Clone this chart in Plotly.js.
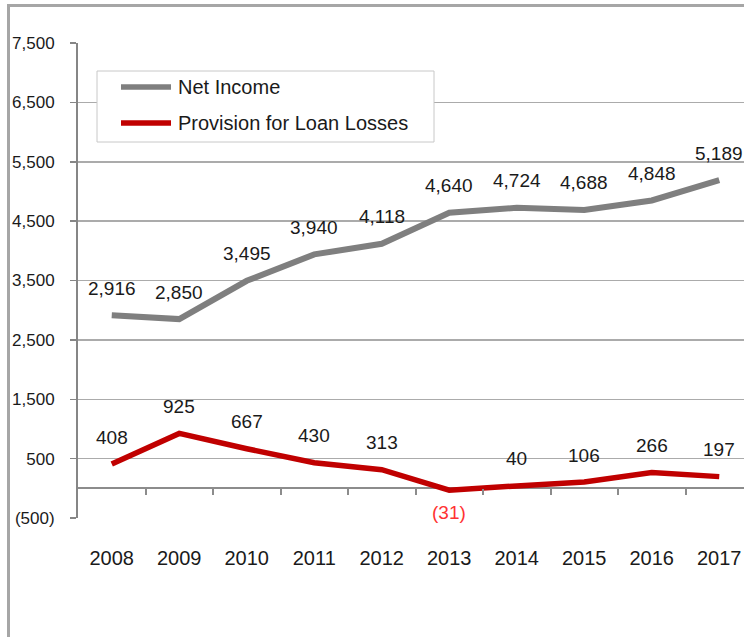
<!DOCTYPE html>
<html>
<head>
<meta charset="utf-8">
<script src="https://cdn.plot.ly/plotly-3.0.1.min.js"></script>
<style>
  html, body { margin: 0; padding: 0; background: #ffffff; }
  #wrap { position: relative; width: 744px; height: 637px; overflow: hidden; }
  #chart { position: absolute; left: 0; top: 0; width: 744px; height: 637px; }
  #frame { position: absolute; left: 7px; top: 4px; width: 760px; height: 700px;
           border-left: 3px solid #a6a6a6; border-top: 3px solid #a6a6a6; pointer-events: none; }
</style>
</head>
<body>
<div id="wrap">
  <div id="chart"></div>
  <div id="frame"></div>
</div>
<script>
// ---- data ----
var years = ['2008','2009','2010','2011','2012','2013','2014','2015','2016','2017'];
var netIncome = [2916, 2850, 3495, 3940, 4118, 4640, 4724, 4688, 4848, 5189];
var provision = [408, 925, 667, 430, 313, -31, 40, 106, 266, 197];
var seriesNames = ['Net Income', 'Provision for Loan Losses'];
var yTickVals = [-500, 500, 1500, 2500, 3500, 4500, 5500, 6500, 7500];
var yTickText = ['(500)', '500', '1,500', '2,500', '3,500', '4,500', '5,500', '6,500', '7,500'];

// ---- helpers ----
function fmt(v) {
  var a = String(Math.abs(v)).replace(/\B(?=(\d{3})+(?!\d))/g, ',');
  return v < 0 ? '(' + a + ')' : a;
}
var FONT = 'Liberation Sans, Arial, sans-serif';
var grayLine = '#7f7f7f';
var redLine = '#c00000';

var traces = [
  { x: years, y: netIncome, type: 'scatter', mode: 'lines', name: seriesNames[0],
    line: { color: grayLine, width: 6 }, hoverinfo: 'x+y' },
  { x: years, y: provision, type: 'scatter', mode: 'lines', name: seriesNames[1],
    line: { color: redLine, width: 5.5 }, hoverinfo: 'x+y' },
  { x: [], y: [], xaxis: 'x2', yaxis: 'y', type: 'scatter', mode: 'lines',
    showlegend: false, hoverinfo: 'skip' }
];

var annotations = [];
years.forEach(function (yr, i) {
  annotations.push({ x: i, y: netIncome[i], xref: 'x', yref: 'y', text: fmt(netIncome[i]),
    showarrow: false, yanchor: 'middle', xanchor: 'center', yshift: 27,
    font: { family: FONT, size: 19, color: '#1a1a1a' } });
  var neg = provision[i] < 0;
  annotations.push({ x: i, y: provision[i], xref: 'x', yref: 'y', text: fmt(provision[i]),
    showarrow: false, yanchor: 'middle', xanchor: 'center', yshift: neg ? -22 : 27,
    font: { family: FONT, size: 19, color: neg ? '#ff3333' : '#1a1a1a' } });
});

// manual legend (paper coordinates relative to plot area: left 78, top 43, width 666, height 475)
function px(xPix) { return (xPix - 78) / 666; }
function py(yPix) { return (518 - yPix) / 475; }
var shapes = [
  { type: 'rect', xref: 'paper', yref: 'paper', x0: px(97), x1: px(434), y0: py(142), y1: py(71),
    fillcolor: '#ffffff', line: { color: '#c8c8c8', width: 1 }, layer: 'above' },
  { type: 'line', xref: 'paper', yref: 'paper', x0: px(121), x1: px(171), y0: py(87), y1: py(87),
    line: { color: grayLine, width: 5.5 }, layer: 'above' },
  { type: 'line', xref: 'paper', yref: 'paper', x0: px(121), x1: px(171), y0: py(123), y1: py(123),
    line: { color: redLine, width: 5.5 }, layer: 'above' }
];
annotations.push({ xref: 'paper', yref: 'paper', x: px(176), y: py(87), text: seriesNames[0],
  showarrow: false, xanchor: 'left', yanchor: 'middle',
  font: { family: FONT, size: 20, color: '#1a1a1a' } });
annotations.push({ xref: 'paper', yref: 'paper', x: px(176), y: py(123), text: seriesNames[1],
  showarrow: false, xanchor: 'left', yanchor: 'middle',
  font: { family: FONT, size: 20, color: '#1a1a1a' } });

var xRange = [-0.5, -0.5 + 666 / 67.5];
var boundaryTicks = years.slice(0, years.length - 1).map(function (_, i) { return i + 0.5; });

var layout = {
  width: 744, height: 637,
  margin: { l: 78, r: 0, t: 43, b: 119, pad: 0 },
  paper_bgcolor: 'rgba(0,0,0,0)',
  plot_bgcolor: 'rgba(0,0,0,0)',
  showlegend: false,
  xaxis: {
    type: 'category', range: xRange, showgrid: false, zeroline: false, showline: false,
    ticks: '', tickfont: { family: FONT, size: 20, color: '#1a1a1a' },
    ticklabelstandoff: 26, fixedrange: true
  },
  xaxis2: {
    type: 'linear', overlaying: 'x', anchor: 'free', position: 500 / 8000,
    range: xRange, showgrid: false, zeroline: false, showline: false,
    ticks: 'outside', ticklen: 6, tickwidth: 2, tickcolor: '#8c8c8c',
    tickvals: boundaryTicks, showticklabels: false, fixedrange: true
  },
  yaxis: {
    range: [-500, 7500], tickvals: yTickVals, ticktext: yTickText,
    showgrid: true, gridcolor: '#ababab', gridwidth: 1.5,
    zeroline: true, zerolinecolor: '#8c8c8c', zerolinewidth: 2,
    showline: true, linecolor: '#868686', linewidth: 2,
    ticks: 'outside', ticklen: 6, tickwidth: 1.5, tickcolor: '#868686',
    tickfont: { family: FONT, size: 17, color: '#1a1a1a' },
    ticklabelstandoff: 12, fixedrange: true
  },
  shapes: shapes,
  annotations: annotations
};

Plotly.newPlot('chart', traces, layout, { displayModeBar: false, staticPlot: true });
</script>
</body>
</html>
